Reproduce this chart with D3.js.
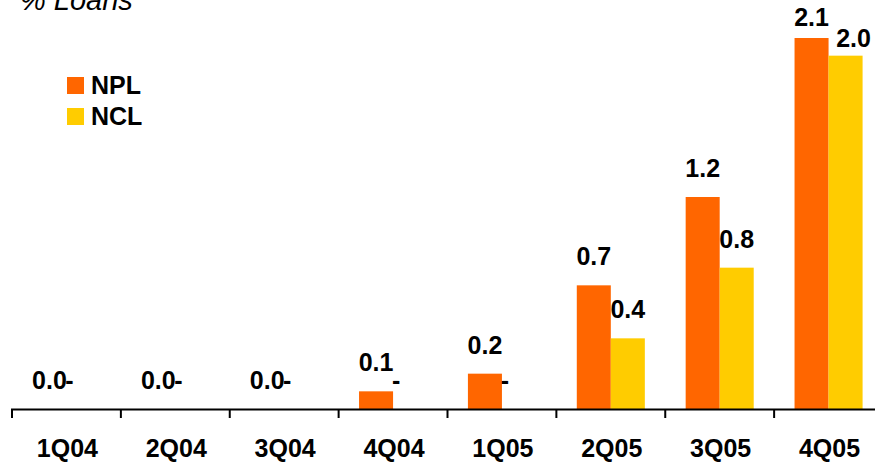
<!DOCTYPE html>
<html>
<head>
<meta charset="utf-8">
<script src="https://cdn.jsdelivr.net/npm/d3@7"></script>
<style>
  body { margin: 0; background: #fff; }
  svg { display: block; font-family: "Liberation Sans", Arial, sans-serif; }
</style>
</head>
<body>
<svg width="875" height="462"></svg>
<script>
const quarters = ["1Q04", "2Q04", "3Q04", "4Q04", "1Q05", "2Q05", "3Q05", "4Q05"];
const npl = [0, 0, 0, 0.1, 0.2, 0.7, 1.2, 2.1];
const ncl = [0, 0, 0, 0, 0, 0.4, 0.8, 2.0];
const seriesNames = ["NPL", "NCL"];
const colors = ["#FF6600", "#FFCC00"];

const svg = d3.select("svg");
const width = +svg.attr("width");

const x = d3.scaleBand()
    .domain(quarters)
    .range([12, 883])
    .padding(0);

const y = d3.scaleLinear()
    .domain([0, 2.1])
    .range([409, 38]);

const groupW = x.bandwidth() * 0.625;
const inner = d3.scaleBand()
    .domain(seriesNames)
    .range([(x.bandwidth() - groupW) / 2, (x.bandwidth() + groupW) / 2]);

const rows = quarters.map((q, i) => ({q, values: [npl[i], ncl[i]]}));
const topLimit = 26;

// title (cut off at top like the source)
svg.append("text")
    .attr("x", 20)
    .attr("y", 10)
    .attr("font-size", 29)
    .attr("font-style", "italic")
    .text("% Loans");

// bars
const groups = svg.selectAll("g.grp")
    .data(rows)
    .join("g")
    .attr("class", "grp")
    .attr("transform", d => `translate(${x(d.q)},0)`);

groups.selectAll("rect")
    .data(d => d.values.map((v, k) => ({v, k})))
    .join("rect")
    .attr("x", d => inner(seriesNames[d.k]))
    .attr("width", inner.bandwidth())
    .attr("y", d => y(d.v))
    .attr("height", d => y(0) - y(d.v))
    .attr("fill", d => colors[d.k]);

// value labels; when the group's NPL label hits the top, NCL label is nudged down/right
function labelPos(d, vals) {
    const cx = inner(seriesNames[d.k]) + inner.bandwidth() / 2;
    if (d.k === 1 && d.v === 0) return [cx - 14, y(d.v) - 20];
    const crowded = y(vals[0]) - 20 < topLimit;
    if (d.k === 1 && crowded) return [cx + 8, y(d.v) - 9];
    return [cx, Math.max(y(d.v) - 20, topLimit)];
}

groups.selectAll("text")
    .data(d => d.values.map((v, k) => ({v, k, vals: d.values})))
    .join("text")
    .attr("x", d => labelPos(d, d.vals)[0])
    .attr("y", d => labelPos(d, d.vals)[1])
    .attr("text-anchor", "middle")
    .attr("font-size", 25)
    .attr("font-weight", "bold")
    .text(d => d.k === 1 && d.v === 0 ? "-" : d.v.toFixed(1));

// axis line and ticks
svg.append("line")
    .attr("x1", 11).attr("x2", width)
    .attr("y1", y(0) + 0.5).attr("y2", y(0) + 0.5)
    .attr("stroke", "#000")
    .attr("stroke-width", 2);

svg.selectAll("line.tick")
    .data(quarters)
    .join("line")
    .attr("class", "tick")
    .attr("x1", d => x(d)).attr("x2", d => x(d))
    .attr("y1", y(0)).attr("y2", y(0) + 9)
    .attr("stroke", "#000")
    .attr("stroke-width", 2);

svg.selectAll("text.cat")
    .data(quarters)
    .join("text")
    .attr("class", "cat")
    .attr("x", d => x(d) + x.bandwidth() / 2 + 1)
    .attr("y", 457)
    .attr("text-anchor", "middle")
    .attr("font-size", 25)
    .attr("font-weight", "bold")
    .text(d => d);

// legend
const legend = svg.append("g").attr("transform", "translate(67,77)");
seriesNames.forEach((name, i) => {
    legend.append("rect")
        .attr("x", 0).attr("y", i * 31)
        .attr("width", 17).attr("height", 17)
        .attr("fill", colors[i]);
    legend.append("text")
        .attr("x", 24).attr("y", i * 31 + 17)
        .attr("font-size", 25)
        .attr("font-weight", "bold")
        .text(name);
});
</script>
</body>
</html>
